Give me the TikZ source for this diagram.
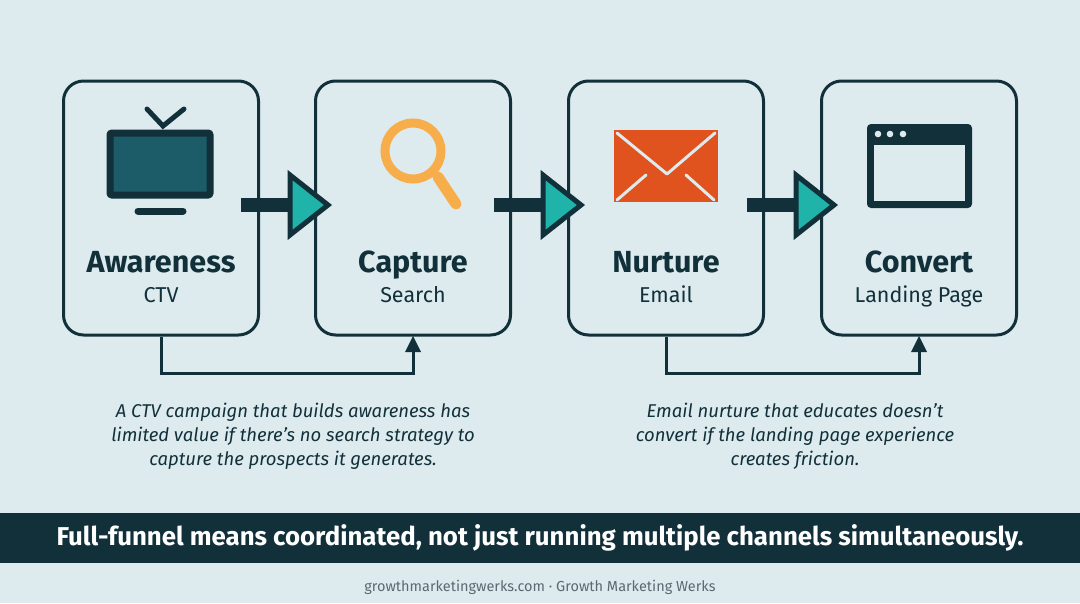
\documentclass[tikz,border=0pt]{standalone}
\usepackage{fontspec}
\setmainfont{Fira Sans}
\begin{document}
\definecolor{bg}{HTML}{DDEBEE}
\definecolor{dk}{HTML}{12303A}
\definecolor{tl}{HTML}{1FB3AA}
\definecolor{tv}{HTML}{1C5C68}
\definecolor{og}{HTML}{F7AE4A}
\definecolor{em}{HTML}{E0521E}
\definecolor{gr}{HTML}{5A6A70}
\begin{tikzpicture}[x=1pt,y=-1pt,
  box/.style={draw=dk,line width=3pt,rounded corners=20pt,minimum width=195pt,minimum height=254pt,inner sep=0pt},
  ttl/.style={font=\bfseries\fontsize{30.5}{32}\selectfont,text=dk,anchor=base},
  sub/.style={font=\fontsize{21.5}{24}\selectfont,text=dk,anchor=base},
  captxt/.style={font=\itshape\fontsize{18.5}{24}\selectfont,text=dk,align=center},
  link/.style={draw=dk,line width=3pt},
  bar/.style={draw=dk,line width=14pt}]
\fill[bg] (0,0) rectangle (1080,603);
\foreach \n/\x in {b1/161,b2/413,b3/666,b4/919}{\node[box] (\n) at (\x,208) {};}
\node[ttl] at (161,272) {Awareness};\node[sub] at (161,302) {CTV};
\node[ttl] at (413,272) {Capture};\node[sub] at (413,302) {Search};
\node[ttl] at (666,272) {Nurture};\node[sub] at (666,302) {Email};
\node[ttl] at (919,272) {Convert};\node[sub] at (919,302) {Landing Page};
% flow arrows
\foreach \a/\x in {1/241,2/494,3/747}{
  \coordinate (s\a) at (\x,205); \coordinate (e\a) at (\x+50,205);
  \draw[bar] (s\a) -- (e\a);
  \filldraw[fill=tl,draw=dk,line width=5pt,line join=miter] (\x+49,175) -- (\x+87,205) -- (\x+49,235) -- cycle;}
% TV
\draw[dk,line width=5pt,line cap=round] (147,109) -- (163,126) -- (184,109);
\filldraw[fill=tv,draw=dk,line width=7pt,rounded corners=2pt] (110,133) rectangle (210,195);
\draw[dk,line width=7pt,line cap=round] (138,211) -- (183,211);
% magnifier
\draw[og,line width=9pt] (413,151) circle (28);
\draw[og,line width=11pt,line cap=round] (438,177) -- (456,204);
% envelope
\fill[em] (614,130) rectangle (718,202);
\draw[bg,line width=3pt,line cap=round,line join=round] (617,133) -- (667,174) -- (715,133);
\draw[bg,line width=3pt,line cap=round] (617,200) -- (646,175) (686,175) -- (714,200);
% browser
\fill[dk,rounded corners=4pt] (867,124) rectangle (972,208);
\fill[bg] (874,145) rectangle (965,201);
\foreach \d in {878,890,903}{\fill[bg] (\d,134) circle (3.3);}
% feedback connectors
\coordinate (c1) at (161,373); \coordinate (c2) at (413,373);
\coordinate (c3) at (666,373); \coordinate (c4) at (919,373);
\draw[link] (b1.south) -- (c1) -- (c2) -- (413,352);
\fill[dk] (405,352) -- (421,352) -- (413,336) -- cycle;
\draw[link] (b3.south) -- (c3) -- (c4) -- (919,352);
\fill[dk] (911,352) -- (927,352) -- (919,336) -- cycle;
\node[captxt] (t1) at (293,436) {A CTV campaign that builds awareness has\\limited value if there’s no search strategy to\\capture the prospects it generates.};
\node[captxt] (t2) at (795,436) {Email nurture that educates doesn’t\\convert if the landing page experience\\creates friction.};
\fill[dk] (0,513) rectangle (1080,563);
\node[font=\bfseries\fontsize{25.8}{27}\selectfont,text=white] (ban) at (540,538) {Full-funnel means coordinated, not just running multiple channels simultaneously.};
\node[font=\fontsize{14.5}{16}\selectfont,text=gr] (ft) at (540,587) {growthmarketingwerks.com · Growth Marketing Werks};
\end{tikzpicture}
\end{document}
